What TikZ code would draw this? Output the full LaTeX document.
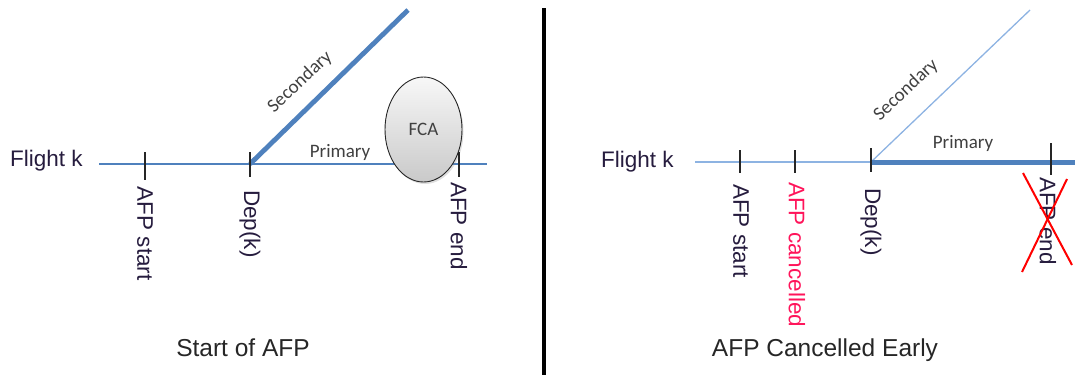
\documentclass[tikz,border=0pt]{standalone}
\usepackage{fontspec}
\setmainfont{Liberation Sans}
\newfontfamily\tagfont{Carlito}
\usetikzlibrary{shapes.geometric,shadows}

\definecolor{routeblue}{RGB}{79,129,189}
\definecolor{paleblue}{RGB}{141,179,226}
\definecolor{labelink}{RGB}{38,28,62}
\definecolor{tagink}{RGB}{64,64,64}
\definecolor{cancelred}{RGB}{255,20,90}

\begin{document}
\begin{tikzpicture}[x=1pt,y=-1pt,
  lbl/.style={font=\fontsize{22.5}{26}\selectfont, text=labelink, inner sep=0pt},
  vlbl/.style={lbl, rotate=-90, anchor=west},
  tag/.style={font=\tagfont\fontsize{19}{22}\selectfont, text=tagink, inner sep=0pt},
  tickmark/.style={line width=1.5pt, black!85},
  caption/.style={font=\fontsize{24.5}{28}\selectfont, text=black!85, inner sep=0pt, anchor=base},
  thinroute/.style={routeblue, line width=1.5pt},
  thickroute/.style={routeblue, line width=4.8pt},
  strike/.style={red, line width=2pt}
]
\useasboundingbox (0,0) rectangle (1075,375);

% ---------- left panel: start of AFP ----------
\node[lbl, anchor=base west] (flightL) at (10,166.7) {Flight k};
\coordinate (L0) at (99,164);
\coordinate (L1) at (487,164);
\coordinate (Ldep) at (250,164);
\coordinate (Ltop) at (408,10);

\draw[thinroute] (L0) -- (L1);
\draw[thickroute] (Ldep) -- (Ltop);

\node[ellipse, draw=black!85, line width=0.9pt, minimum width=77pt, minimum height=105pt,
      top color=gray!6, bottom color=gray!42,
      drop shadow={opacity=0.25, shadow xshift=1.5pt, shadow yshift=-2pt},
      font=\tagfont\fontsize{19}{22}\selectfont, text=tagink] (fca) at (423.5,129.5) {FCA};

\draw[tickmark] (145,152) -- (145,180);
\draw[tickmark] (250,152) -- (250,177);
\draw[tickmark] (459,152) -- (459,177);

\node[vlbl] (startL) at (145,186.7) {AFP start};
\node[vlbl] (depL) at (250,190) {Dep(k)};
\node[vlbl] (endL) at (459,182) {AFP end};

\node[tag, rotate=43] (secL) at (300,82) {Secondary};
\node[tag, anchor=base] (primL) at (340,157) {Primary};

\node[caption] (capL) at (243,356) {Start of AFP};

% ---------- divider ----------
\coordinate (divtop) at (544,8);
\coordinate (divbot) at (544,375);
\draw[black, line width=4pt] (divtop) -- (divbot);

% ---------- right panel: AFP cancelled early ----------
\node[lbl, anchor=base west] (flightR) at (601,167) {Flight k};
\coordinate (R0) at (695,162);
\coordinate (Rdep) at (871,162);
\coordinate (R1) at (1075,162);
\coordinate (Rtop) at (1030,10);

\draw[paleblue, line width=1.8pt] (R0) -- (Rdep);
\draw[paleblue, line width=1.3pt] (Rdep) -- (Rtop);
\draw[routeblue, line width=5pt] (Rdep) -- (R1);

\draw[tickmark] (740,150) -- (740,173);
\draw[tickmark] (795,150) -- (795,173);
\draw[tickmark] (871,148) -- (871,172);
\draw[tickmark] (1051,143) -- (1051,175);

\node[vlbl] (startR) at (741,184) {AFP start};
\node[vlbl, text=cancelred] (cancR) at (797,182) {AFP cancelled};
\node[vlbl] (depR) at (871,188) {Dep(k)};
\node[vlbl] (endR) at (1048,177) {AFP end};

\coordinate (x1a) at (1023,173);
\coordinate (x1b) at (1072,265);
\coordinate (x2a) at (1022,272);
\coordinate (x2b) at (1067,179);
\draw[strike] (x1a) -- (x1b);
\draw[strike] (x2a) -- (x2b);

\node[tag, rotate=43] (secR) at (906,90) {Secondary};
\node[tag, anchor=base] (primR) at (963,148) {Primary};

\node[caption] (capR) at (825,356) {AFP Cancelled Early};
\end{tikzpicture}
\end{document}
